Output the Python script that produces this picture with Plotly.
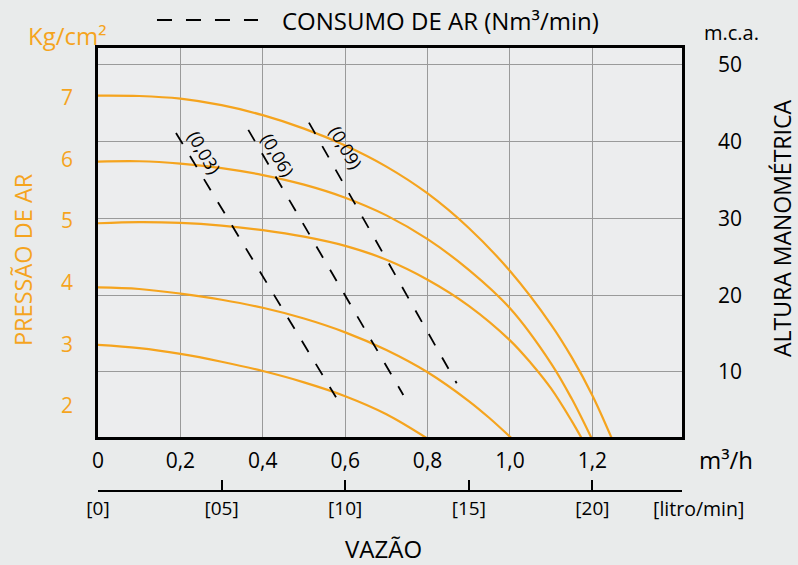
import plotly.graph_objects as go

# ---- data (x in m³/h, y in m.c.a.) ----
p7_x = [0.0, 0.1, 0.2, 0.3, 0.4, 0.5, 0.6, 0.7, 0.8, 0.9, 1.0, 1.1, 1.15, 1.2, 1.247]
p7_y = [46.00, 45.95, 45.60, 44.75, 43.45, 41.70, 39.50, 36.75, 33.25, 28.75, 23.15, 16.15, 11.90, 6.95, 1.36]

p6_x = [0.0, 0.1, 0.2, 0.3, 0.4, 0.5, 0.6, 0.7, 0.8, 0.9, 1.0, 1.1, 1.15, 1.198]
p6_y = [37.40, 37.45, 37.15, 36.55, 35.65, 34.40, 32.70, 30.40, 27.30, 23.30, 18.30, 11.10, 6.50, 1.36]

p5_x = [0.0, 0.1, 0.2, 0.3, 0.4, 0.5, 0.6, 0.7, 0.8, 0.9, 1.0, 1.05, 1.1, 1.15, 1.174]
p5_y = [29.37, 29.52, 29.42, 29.07, 28.47, 27.62, 26.42, 24.62, 22.02, 18.62, 14.12, 11.20, 7.82, 3.60, 1.36]

p4_x = [0.0, 0.1, 0.2, 0.3, 0.4, 0.5, 0.6, 0.7, 0.8, 0.9, 0.95, 1.004]
p4_y = [21.01, 20.81, 20.21, 19.41, 18.36, 16.96, 15.16, 12.86, 9.96, 6.21, 4.00, 1.36]

p3_x = [0.0, 0.1, 0.2, 0.3, 0.4, 0.5, 0.6, 0.7, 0.799]
p3_y = [13.52, 13.10, 12.35, 11.33, 10.12, 8.65, 6.85, 4.50, 1.35]

air003_x = [0.1893, 0.5777]
air003_y = [41.14, 6.70]
air006_x = [0.3648, 0.741]
air006_y = [41.53, 7.00]
air009_x = [0.512, 0.8706]
air009_y = [42.48, 8.53]

air_labels = ["(0,03)", "(0,06)", "(0,09)"]

x_ticks = [0, 0.2, 0.4, 0.6, 0.8, 1.0, 1.2]
x_ticktext = ["0", "0,2", "0,4", "0,6", "0,8", "1,0", "1,2"]
lmin_ticks = [0, 5, 10, 15, 20]
lmin_ticktext = ["[0]", "[05]", "[10]", "[15]", "[20]"]
mca_ticks = [10, 20, 30, 40, 50]
kg_ticks = [2, 3, 4, 5, 6, 7]

ORANGE = "#F5A41E"
FONT = "Open Sans"
X_MAX = 1.4175
BG = "#E9EBEB"

fig = go.Figure()

for xs, ys in [(p7_x, p7_y), (p6_x, p6_y), (p5_x, p5_y), (p4_x, p4_y), (p3_x, p3_y)]:
    fig.add_trace(go.Scatter(x=xs, y=ys, mode="lines",
                             line=dict(color=ORANGE, width=2.2, shape="spline", smoothing=1.0),
                             xaxis="x", yaxis="y", showlegend=False, hoverinfo="skip"))

for xs, ys in [(air003_x, air003_y), (air006_x, air006_y), (air009_x, air009_y)]:
    fig.add_trace(go.Scatter(x=xs, y=ys, mode="lines",
                             line=dict(color="black", width=1.8, dash="13px,14px"),
                             xaxis="x", yaxis="y", showlegend=False, hoverinfo="skip"))

# dummy traces for secondary axes
fig.add_trace(go.Scatter(x=[None], y=[None], xaxis="x", yaxis="y2", showlegend=False))
fig.add_trace(go.Scatter(x=[None], y=[None], xaxis="x2", yaxis="y", showlegend=False))

label_pos = [(0.257, 38.6), (0.437, 38.3), (0.601, 39.3)]
annotations = []
for (lx, ly), txt in zip(label_pos, air_labels):
    annotations.append(dict(x=lx, y=ly, xref="x", yref="y", text=txt, showarrow=False,
                            textangle=60, font=dict(family=FONT, size=18, color="black")))

def pa(text, x, y, size, color="black", angle=0, xanchor="center"):
    annotations.append(dict(x=x, y=y, xref="paper", yref="paper", text=text, showarrow=False,
                            textangle=angle, xanchor=xanchor, yanchor="middle",
                            font=dict(family=FONT, size=size, color=color)))

pa("CONSUMO DE AR (Nm³/min)", 0.3116, 1.0632, 24, xanchor="left")
pa("Kg/cm²", -0.0514, 1.0293, 24, ORANGE)
pa("PRESSÃO DE AR", -0.1284, 0.5214, 23.5, ORANGE, angle=-90)
pa("ALTURA MANOMÉTRICA", 1.1712, 0.5937, 23, angle=-90)
pa("m.c.a.", 1.0856, 1.0361, 20)
pa("m³/h", 1.0753, 0.0722, 24)
pa("VAZÃO", 0.4897, -0.1287, 24)
pa("[litro/min]", 1.0274, -0.0384, 19.5)

shapes = [dict(type="line", xref="paper", yref="paper", x0=0.101, x1=0.274, y0=1.0632, y1=1.0632,
               line=dict(color="black", width=2, dash="15px,14px"))]

fig.update_layout(
    width=798, height=565,
    margin=dict(l=98, r=116, t=48, b=74),
    paper_bgcolor=BG, plot_bgcolor="#ECEDEE",
    font=dict(family=FONT, size=21, color="black"),
    showlegend=False,
    annotations=annotations, shapes=shapes,
    xaxis=dict(range=[0, X_MAX], tickvals=x_ticks, ticktext=x_ticktext, showgrid=True,
               gridcolor="#9A9A9A", gridwidth=1.3, zeroline=False, showline=True,
               linecolor="black", linewidth=2.5, mirror=True, ticks="", anchor="y",
               ticklabelstandoff=3,
               tickfont=dict(family=FONT, size=21, color="black")),
    xaxis2=dict(range=[0, X_MAX / 0.06], tickvals=lmin_ticks + [X_MAX / 0.06],
                ticktext=lmin_ticktext + [""], overlaying="x", anchor="free", position=0,
                side="bottom", showgrid=False, zeroline=False, showline=True,
                linecolor="black", linewidth=2, ticks="inside", ticklen=10, tickwidth=2,
                tickcolor="black", tickfont=dict(family=FONT, size=19, color="black")),
    yaxis=dict(range=[1.53, 52.2], domain=[0.1219, 1], tickvals=mca_ticks, side="right",
               showgrid=True, gridcolor="#9A9A9A", gridwidth=1.3, zeroline=False,
               showline=True, linecolor="black", linewidth=2.5, mirror=True, ticks="",
               anchor="x", ticklabelstandoff=29,
               tickfont=dict(family=FONT, size=21, color="black")),
    yaxis2=dict(range=[1.498, 7.802], tickvals=kg_ticks, overlaying="y", side="left",
                showgrid=False, zeroline=False, showline=False, ticks="", anchor="x",
                ticklabelstandoff=24, tickfont=dict(family=FONT, size=21, color=ORANGE)),
)

fig.write_html(
    "out.html",
    config={"displayModeBar": False},
    post_script="document.body.style.margin='0px';document.body.style.overflow='hidden';"
                "document.body.style.backgroundColor='" + BG + "';",
)
